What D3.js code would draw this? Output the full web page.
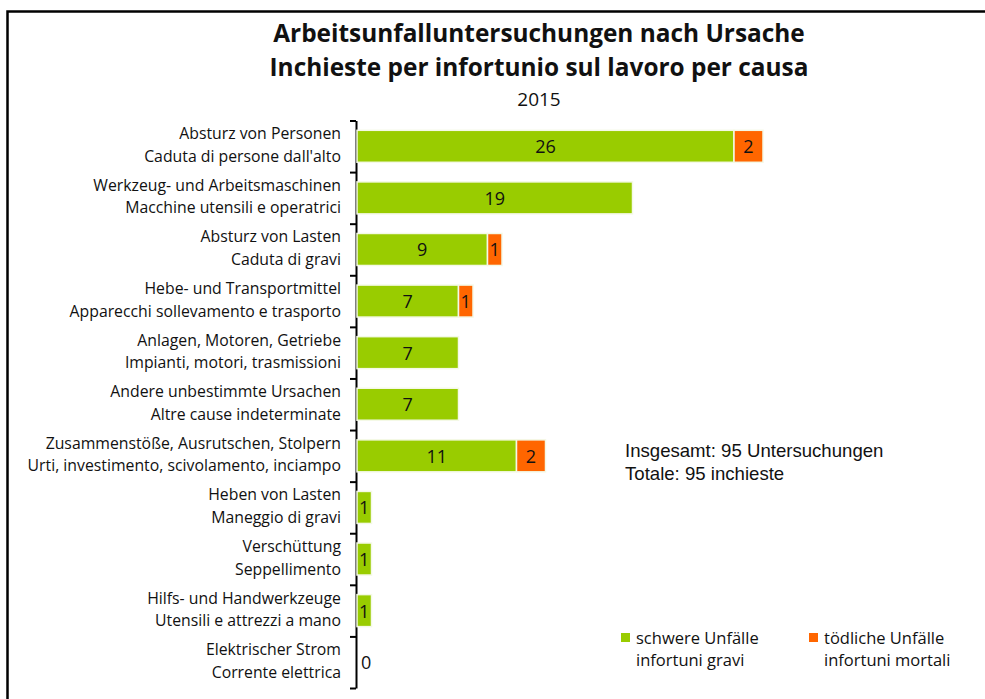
<!DOCTYPE html>
<html lang="de">
<head>
    <meta charset="UTF-8">
    <title>Arbeitsunfalluntersuchungen nach Ursache</title>
    <style>
        body { margin: 0; background: #fff; }
        svg { display: block; }
        .lbl { font-family: "Open Sans", sans-serif; font-size: 15.8px; fill: #111; }
        .val { font-family: "Open Sans", sans-serif; font-size: 18px; fill: #111; }
    </style>
</head>
<body>
    <div id="chart"></div>
    <script src="https://d3js.org/d3.v7.min.js"></script>
    <script>
        // Categories (German / Italian)
        const labelsDe = [
            "Absturz von Personen",
            "Werkzeug- und Arbeitsmaschinen",
            "Absturz von Lasten",
            "Hebe- und Transportmittel",
            "Anlagen, Motoren, Getriebe",
            "Andere unbestimmte Ursachen",
            "Zusammenstöße, Ausrutschen, Stolpern",
            "Heben von Lasten",
            "Verschüttung",
            "Hilfs- und Handwerkzeuge",
            "Elektrischer Strom"
        ];
        const labelsIt = [
            "Caduta di persone dall'alto",
            "Macchine utensili e operatrici",
            "Caduta di gravi",
            "Apparecchi sollevamento e trasporto",
            "Impianti, motori, trasmissioni",
            "Altre cause indeterminate",
            "Urti, investimento, scivolamento, inciampo",
            "Maneggio di gravi",
            "Seppellimento",
            "Utensili e attrezzi a mano",
            "Corrente elettrica"
        ];
        const serious = [26, 19, 9, 7, 7, 7, 11, 1, 1, 1, 0];
        const fatal = [2, 0, 1, 1, 0, 0, 2, 0, 0, 0, 0];

        const seriesNames = [["schwere Unfälle", "infortuni gravi"], ["tödliche Unfälle", "infortuni mortali"]];
        const colors = ["#99cc00", "#ff6600"];

        const W = 985, H = 699;
        const svg = d3.select("#chart").append("svg").attr("width", W).attr("height", H);

        // frame (left + top only)
        svg.append("path")
            .attr("d", `M7.5,${H} V11.5 H${W}`)
            .attr("fill", "none").attr("stroke", "#000").attr("stroke-width", 2.5);

        // title
        const title = svg.append("text").attr("text-anchor", "middle")
            .style("font-family", "'Open Sans', sans-serif")
            .style("font-weight", "bold").style("font-size", "24.4px").attr("fill", "#111");
        title.append("tspan").attr("x", 539).attr("y", 42).text("Arbeitsunfalluntersuchungen nach Ursache");
        title.append("tspan").attr("x", 539).attr("y", 76).text("Inchieste per infortunio sul lavoro per causa");
        svg.append("text").attr("x", 539).attr("y", 106).attr("text-anchor", "middle")
            .style("font-family", "'Open Sans', sans-serif")
            .style("font-size", "19px").attr("fill", "#111").text("2015");

        const x0 = 357, y0 = 120.5, y1 = 688;
        const idx = d3.range(labelsDe.length);

        const x = d3.scaleLinear().domain([0, 28]).range([x0, x0 + 28 * 14.5]);
        const y = d3.scaleBand().domain(idx).range([y0, y1]).paddingInner(0.38).paddingOuter(0.19);
        const yEdge = d3.scaleLinear().domain([0, idx.length]).range([y0, y1]);

        // axis with ticks between categories
        const axis = svg.append("g").attr("transform", `translate(${x0 - 1},0)`)
            .call(d3.axisLeft(yEdge).tickValues(d3.range(idx.length + 1)).tickSize(6).tickSizeOuter(0).tickFormat(""));
        axis.select(".domain").attr("stroke", "#000").attr("stroke-width", 2);
        axis.selectAll(".tick line").attr("stroke", "#000").attr("stroke-width", 2);

        // category labels
        const lab = svg.append("g").selectAll("text").data(idx).join("text")
            .attr("class", "lbl").attr("text-anchor", "end");
        lab.append("tspan").attr("x", 341).attr("y", i => y(i) + y.bandwidth() / 2 - 7).text(i => labelsDe[i]);
        lab.append("tspan").attr("x", 341).attr("y", i => y(i) + y.bandwidth() / 2 + 15.5).text(i => labelsIt[i]);

        // stacked bars
        const rows = idx.map(i => ({ i, s: serious[i], f: fatal[i] }));
        const stack = d3.stack().keys(["s", "f"])(rows);

        svg.append("g").selectAll("g").data(stack).join("g")
            .attr("fill", (d, k) => colors[k])
            .selectAll("rect").data(d => d.filter(p => p[1] > p[0])).join("rect")
            .attr("x", p => x(p[0]))
            .attr("width", p => x(p[1]) - x(p[0]))
            .attr("y", p => y(p.data.i))
            .attr("height", y.bandwidth())
            .attr("stroke", "#f4f9e6").attr("stroke-width", 1.5);

        // value labels
        svg.append("g").selectAll("g").data(stack).join("g")
            .selectAll("text").data(d => d.filter(p => p[1] > p[0])).join("text")
            .attr("class", "val").attr("text-anchor", "middle").attr("dominant-baseline", "central")
            .attr("x", p => (x(p[0]) + x(p[1])) / 2)
            .attr("y", p => y(p.data.i) + y.bandwidth() / 2)
            .text(p => p[1] - p[0]);

        // zero labels
        svg.append("g").selectAll("text").data(rows.filter(r => r.s + r.f === 0)).join("text")
            .attr("class", "val").attr("dominant-baseline", "central")
            .attr("x", x(0) + 4).attr("y", r => y(r.i) + y.bandwidth() / 2)
            .text(0);

        // total note
        const note = svg.append("text").style("font-family", "'Liberation Sans', Arial, sans-serif")
            .style("font-size", "18.6px").attr("fill", "#111");
        note.append("tspan").attr("x", 625).attr("y", 457).text("Insgesamt: 95 Untersuchungen");
        note.append("tspan").attr("x", 625).attr("y", 480).text("Totale: 95 inchieste");

        // legend
        const legX = [621, 809];
        const leg = svg.append("g").selectAll("g").data(seriesNames).join("g")
            .attr("transform", (d, k) => `translate(${legX[k]},633)`);
        leg.append("rect").attr("width", 9).attr("height", 9).attr("fill", (d, k) => colors[k]);
        const lt = leg.append("text").attr("class", "lbl").style("font-size", "16.5px");
        lt.append("tspan").attr("x", 15).attr("y", 10.5).text(d => d[0]);
        lt.append("tspan").attr("x", 15).attr("y", 33).text(d => d[1]);
    </script>
</body>
</html>
